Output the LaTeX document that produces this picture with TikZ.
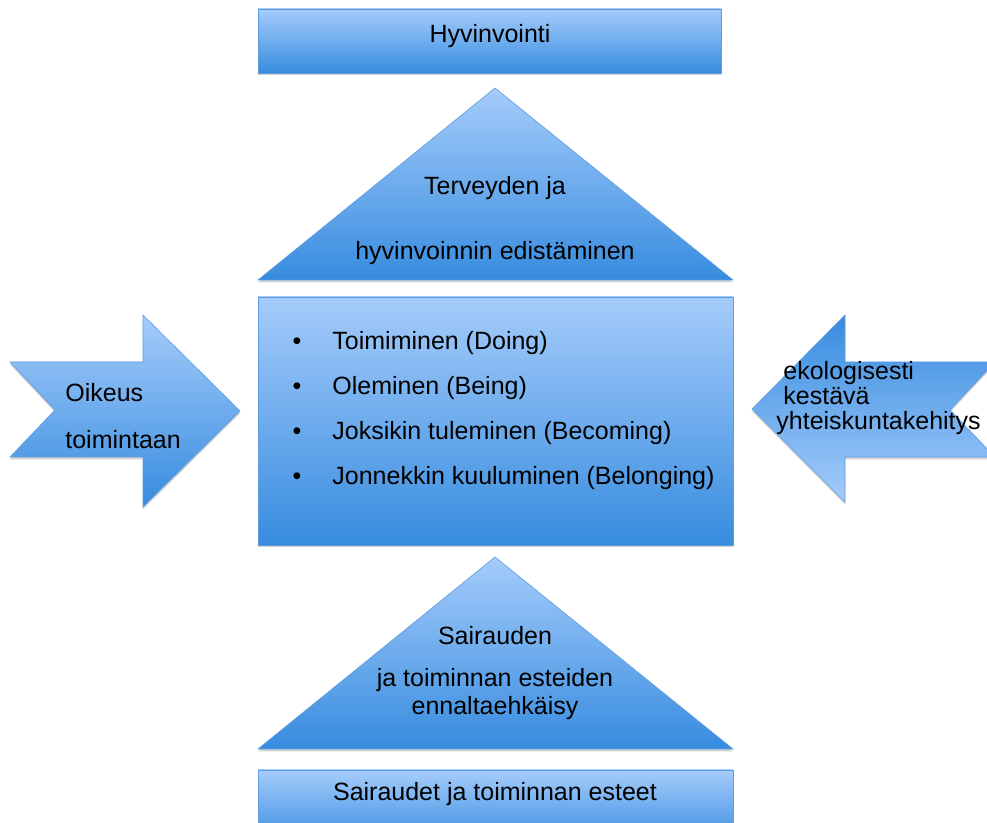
\documentclass[tikz,border=0pt]{standalone}
\usepackage{fontspec}
\setmainfont{Liberation Sans}
\usetikzlibrary{shadows}
\definecolor{bluetop}{RGB}{165,204,251}
\definecolor{bluebot}{RGB}{55,140,223}
\definecolor{blueline}{RGB}{95,155,225}
\tikzset{
  blueshape/.style={top color=bluetop, bottom color=bluebot, draw=blueline, line width=0.3pt,
    drop shadow={shadow xshift=0pt, shadow yshift=-1.2pt, opacity=0.35}},
  blueflip/.style={blueshape, top color=bluebot, bottom color=bluetop},
  lbl/.style={font=\fontsize{12.5}{12.5}\selectfont, inner sep=0pt, anchor=base},
  sidelbl/.style={lbl, anchor=base west}
}
\begin{document}
\begin{tikzpicture}[x=0.5pt, y=-0.5pt]
  \useasboundingbox (0,0) rectangle (987,823);
  \clip (0,0) rectangle (987,823);
  \fill[white] (0,0) rectangle (987,823);

  % boxes and roofs
  \path[blueshape] (258,9) rectangle (721,73);
  \path[blueshape] (258,280) -- (495,88) -- (733,280) -- cycle;
  \path[blueshape] (258,297) rectangle (733,545);
  \path[blueshape] (258,749) -- (495,557) -- (733,749) -- cycle;
  \path[blueshape] (258,770) rectangle (733,845);

  % side arrows
  \path[blueshape] (10,362) -- (143,362) -- (143,315) -- (240,411) -- (143,507)
                   -- (143,457) -- (10,457) -- (55,410) -- cycle;
  \path[blueflip] (995,362) -- (845,362) -- (845,315) -- (752,409) -- (845,502)
                  -- (845,457) -- (995,457) -- (950,410) -- cycle;

  \node[lbl] (top) at (490,43) {Hyvinvointi};
  \node[lbl] (roof1) at (495,195) {Terveyden ja};
  \node[lbl] (roof2) at (495,260) {hyvinvoinnin edistäminen};

  \node[lbl, anchor=base west] (doing) at (332,350) {Toimiminen (Doing)};
  \node[lbl, anchor=base west] (being) at (332,395) {Oleminen (Being)};
  \node[lbl, anchor=base west] (becoming) at (332,440) {Joksikin tuleminen (Becoming)};
  \node[lbl, anchor=base west] (belonging) at (332,485) {Jonnekkin kuuluminen (Belonging)};
  \foreach \y in {350,395,440,485}
    \node[lbl] at (297,\y) {\textbullet};

  \node[sidelbl] (oik1) at (65,402) {Oikeus};
  \node[sidelbl] (oik2) at (65,449) {toimintaan};

  \node[sidelbl] (eko1) at (783,380) {ekologisesti};
  \node[sidelbl] (eko2) at (783,405) {kestävä};
  \node[sidelbl] (eko3) at (776,430) {yhteiskuntakehitys};

  \node[lbl] (sai1) at (495,645) {Sairauden};
  \node[lbl] (sai2) at (495,687) {ja toiminnan esteiden};
  \node[lbl] (sai3) at (495,715) {ennaltaehkäisy};
  \node[lbl] (bottom) at (495,801) {Sairaudet ja toiminnan esteet};
\end{tikzpicture}
\end{document}
